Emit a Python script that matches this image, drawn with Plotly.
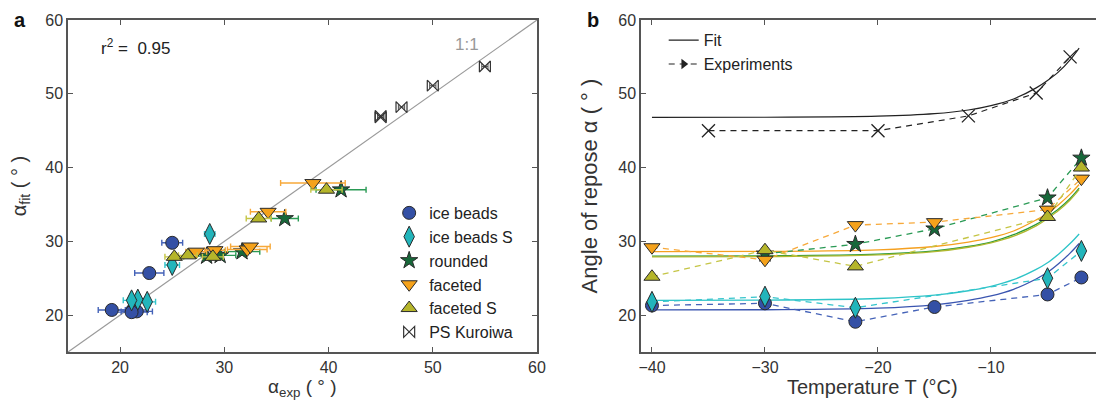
import plotly.graph_objects as go

# ---------------- Panel a data (alpha_exp vs alpha_fit) ----------------
ib_exp = [19.2, 21.2, 21.6, 21.1, 22.8, 25.0]
ib_fit = [20.7, 20.7, 20.5, 20.4, 25.7, 29.8]
ib_err = [1.3, 1.5, 1.5, 1.5, 1.4, 1.0]

ibs_exp = [21.7, 22.6, 21.1, 25.0, 28.6]
ibs_fit = [22.1, 21.8, 22.0, 26.8, 31.0]
ibs_err = [0.8, 0.8, 0.8, 0.7, 0.5]

rd_exp = [28.3, 29.6, 31.7, 35.8, 41.2]
rd_fit = [28.0, 28.1, 28.6, 33.1, 37.0]
rd_err = [1.0, 1.5, 1.7, 1.3, 2.4]

fc_exp = [29.1, 27.3, 32.2, 32.5, 34.2, 38.5]
fc_fit = [28.8, 28.6, 28.9, 29.3, 34.0, 37.9]
fc_err = [1.0, 1.0, 1.9, 1.9, 1.7, 3.1]

fs_exp = [25.2, 28.9, 26.5, 33.3, 39.8]
fs_fit = [27.9, 27.9, 28.1, 33.1, 37.0]
fs_err = [0.9, 1.0, 0.9, 1.2, 1.5]

ku_exp = [45.0, 45.0, 47.0, 50.0, 55.0]
ku_fit = [46.8, 47.0, 48.2, 51.1, 53.7]

diag = [15, 60]

# ---------------- Panel b data (angle vs temperature) ----------------
ib_T = [-40, -30, -22, -15, -5, -2]
ibs_T = [-40, -30, -22, -5, -2]
rd_T = [-30, -22, -15, -5, -2]
fc_T = [-40, -30, -22, -15, -5, -2]
fs_T = [-40, -30, -22, -5, -2]
ku_T = [-35, -20, -12, -6, -3]
ib_b = [21.3, 21.6, 19.1, 21.1, 22.8, 25.1]
ibs_b = [21.8, 22.5, 21.0, 25.0, 28.7]
rd_b = [28.3, 29.6, 31.7, 35.9, 41.3]
fc_b = [29.2, 27.5, 32.2, 32.6, 34.3, 38.5]
fs_b = [25.2, 28.8, 26.6, 33.3, 40.0]
ku_b = [45.0, 45.0, 47.0, 50.1, 55.0]

T_fit = [-40, -30, -20, -15, -12, -10, -8, -6, -5, -4, -3, -2.2]
fit_ib = [20.7, 20.73, 20.95, 21.4, 22.0, 22.6, 23.5, 24.9, 25.8, 27.0, 28.4, 29.7]
fit_ibs = [22.0, 22.03, 22.25, 22.7, 23.3, 23.9, 24.8, 26.2, 27.1, 28.3, 29.7, 31.0]
fit_rd = [28.0, 28.03, 28.26, 28.7, 29.3, 29.9, 30.9, 32.3, 33.3, 34.4, 35.8, 37.2]
fit_fc = [28.6, 28.63, 28.85, 29.3, 29.9, 30.5, 31.4, 32.9, 33.8, 35.0, 36.4, 37.7]
fit_fs = [27.9, 27.93, 28.16, 28.6, 29.2, 29.8, 30.7, 32.1, 33.1, 34.2, 35.6, 37.0]
fit_ku = [46.8, 46.82, 46.96, 47.3, 47.8, 48.4, 49.3, 50.8, 51.8, 53.0, 54.6, 56.2]

series = [
    dict(name="ice beads", exp=ib_exp, fit=ib_fit, err=ib_err, T=ib_T, b=ib_b, fitb=fit_ib,
         symbol="circle", fill="#3450a5", ecol="#4563b8", lcol="#3a55b0", size=13),
    dict(name="ice beads S", exp=ibs_exp, fit=ibs_fit, err=ibs_err, T=ibs_T, b=ibs_b, fitb=fit_ibs,
         symbol="diamond-tall", fill="#22b5bb", ecol="#35c5cc", lcol="#2ec4c8", size=15),
    dict(name="rounded", exp=rd_exp, fit=rd_fit, err=rd_err, T=rd_T, b=rd_b, fitb=fit_rd,
         symbol="star", fill="#17683a", ecol="#2a9a55", lcol="#2a9a3a", size=13),
    dict(name="faceted", exp=fc_exp, fit=fc_fit, err=fc_err, T=fc_T, b=fc_b, fitb=fit_fc,
         symbol="triangle-down", fill="#f5a21b", ecol="#f7a93a", lcol="#f5a020", size=14),
    dict(name="faceted S", exp=fs_exp, fit=fs_fit, err=fs_err, T=fs_T, b=fs_b, fitb=fit_fs,
         symbol="triangle-up", fill="#b5b52a", ecol="#c5c545", lcol="#b0b830", size=14),
]

FONT = "Arial, Liberation Sans, sans-serif"
fig = go.Figure()

# 1:1 line
fig.add_trace(go.Scatter(x=diag, y=diag, mode="lines", line=dict(color="#9a9a9a", width=1.2),
                         showlegend=False, hoverinfo="skip", xaxis="x", yaxis="y"))

for s in series:
    fig.add_trace(go.Scatter(
        x=s["exp"], y=s["fit"], mode="markers", name=s["name"], legendgroup=s["name"],
        marker=dict(symbol=s["symbol"], size=s["size"], color=s["fill"],
                    line=dict(color="#2a2a2a", width=1)),
        error_x=dict(type="data", array=s["err"], color=s["ecol"], thickness=1.4, width=3),
        xaxis="x", yaxis="y", legend="legend"))

fig.add_trace(go.Scatter(
    x=ku_exp, y=ku_fit, mode="markers", name="PS Kuroiwa", legendgroup="PS Kuroiwa",
    marker=dict(symbol="bowtie-open", size=11, color="#333333", line=dict(color="#333333", width=1.2)),
    error_x=dict(type="data", array=[0.3] * len(ku_exp), color="#555555", thickness=1, width=3),
    xaxis="x", yaxis="y", legend="legend"))

# Panel b: fits then experiments
for s in series:
    fig.add_trace(go.Scatter(x=T_fit, y=s["fitb"], mode="lines", line=dict(color=s["lcol"], width=1.3, shape="spline"),
                             showlegend=False, hoverinfo="skip", xaxis="x2", yaxis="y2"))
fig.add_trace(go.Scatter(x=T_fit, y=fit_ku, mode="lines", line=dict(color="#222222", width=1.2, shape="spline"),
                         showlegend=False, hoverinfo="skip", xaxis="x2", yaxis="y2"))

for s in series:
    fig.add_trace(go.Scatter(
        x=s["T"], y=s["b"], mode="lines+markers",
        line=dict(color=s["ecol"], width=1.3, dash="6px,5px"),
        marker=dict(symbol=s["symbol"], size=s["size"], color=s["fill"], line=dict(color="#2a2a2a", width=1)),
        showlegend=False, xaxis="x2", yaxis="y2"))
fig.add_trace(go.Scatter(
    x=ku_T, y=ku_b, mode="lines+markers",
    line=dict(color="#222222", width=1.2, dash="6px,5px"),
    marker=dict(symbol="x-thin-open", size=13, color="#222222", line=dict(color="#222222", width=1.3)),
    showlegend=False, xaxis="x2", yaxis="y2"))

# legend for panel b
fig.add_trace(go.Scatter(x=[None], y=[None], mode="lines", name="Fit",
                         line=dict(color="#222222", width=1.2), xaxis="x2", yaxis="y2", legend="legend2"))
fig.add_trace(go.Scatter(x=[None], y=[None], mode="lines+markers", name="Experiments",
                         line=dict(color="#222222", width=1.2, dash="6px,5px"),
                         marker=dict(symbol="triangle-right", size=9, color="#222222"),
                         xaxis="x2", yaxis="y2", legend="legend2"))

axis_common = dict(showline=True, linecolor="#555555", linewidth=1.5, mirror="ticks",
                   ticks="inside", ticklen=5, tickcolor="#555555", tickwidth=1.2,
                   showgrid=False, zeroline=False, automargin=False,
                   tickfont=dict(family=FONT, size=16, color="#333333"))

# The page body adds an 8px offset, so the figure is 8px smaller and its margins compensate.
fig.update_layout(
    width=1096, height=393,
    margin=dict(l=60, r=0, t=12, b=49),
    paper_bgcolor="white", plot_bgcolor="white",
    font=dict(family=FONT, color="#333333"),
    xaxis=dict(domain=[0, 0.4527], range=[15, 60], tickvals=[20, 30, 40, 50, 60], anchor="y",
               **axis_common),
    yaxis=dict(domain=[0, 1], range=[15, 60], tickvals=[20, 30, 40, 50, 60], anchor="x",
               title=dict(text="α<sub>fit</sub> ( ° )", font=dict(size=20, family=FONT, color="#333333")),
               **axis_common),
    xaxis2=dict(domain=[0.5531, 1], range=[-40.97, 0], tickvals=[-40, -30, -20, -10, 0], anchor="y2",
                **axis_common),
    yaxis2=dict(domain=[0, 1], range=[15, 60], tickvals=[20, 30, 40, 50, 60], anchor="x2",
                title=dict(text="Angle of repose α ( ° )", font=dict(size=22, family=FONT, color="#333333")),
                **axis_common),
    legend=dict(x=0.31, y=0.47, xanchor="left", yanchor="top", bgcolor="rgba(0,0,0,0)",
                font=dict(family=FONT, size=16, color="#222222"), tracegroupgap=0),
    legend2=dict(x=0.575, y=0.99, xanchor="left", yanchor="top", bgcolor="rgba(0,0,0,0)",
                 font=dict(family=FONT, size=16, color="#222222"), tracegroupgap=0),
    annotations=[
        dict(text="<b>a</b>", xref="paper", yref="paper", x=-0.046, y=1.0, xanchor="center",
             yanchor="middle", showarrow=False, font=dict(size=20, family=FONT, color="#111111")),
        dict(text="<b>b</b>", xref="paper", yref="paper", x=0.5068, y=1.0, xanchor="center",
             yanchor="middle", showarrow=False, font=dict(size=20, family=FONT, color="#111111")),
        dict(text="r<sup>2</sup> =  0.95", xref="x", yref="y", x=18.0, y=56.3, xanchor="left",
             showarrow=False, font=dict(size=17, family=FONT, color="#222222")),
        dict(text="1:1", xref="x", yref="y", x=53.3, y=56.7, showarrow=False,
             font=dict(size=17, family=FONT, color="#999999")),
        # x-axis titles
        dict(text="α<sub>exp</sub> ( ° )", xref="x domain", yref="paper", x=0.5, y=-0.107,
             xanchor="center", yanchor="middle", showarrow=False,
             font=dict(size=19, family=FONT, color="#333333")),
        dict(text="Temperature T (°C)", xref="x2 domain", yref="paper", x=0.5, y=-0.104,
             xanchor="center", yanchor="middle", showarrow=False,
             font=dict(size=20, family=FONT, color="#333333")),
    ],
)

fig.write_html("out.html")
